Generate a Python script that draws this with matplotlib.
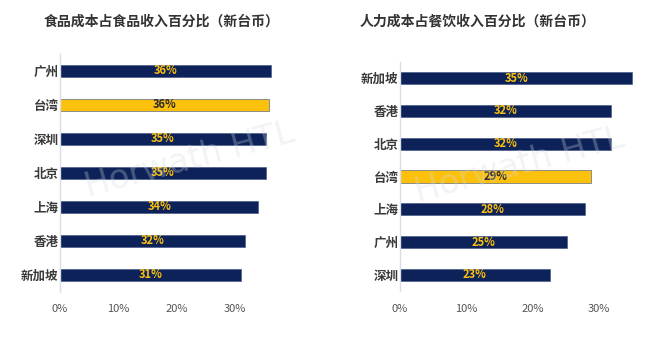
import matplotlib
matplotlib.use("Agg")
import matplotlib.pyplot as plt

plt.rcParams['font.family'] = ['Noto Sans CJK SC', 'DejaVu Sans']

left_title = "食品成本占食品收入百分比（新台币）"
left_cats = ["广州", "台湾", "深圳", "北京", "上海", "香港", "新加坡"]
left_vals = [36.2, 35.8, 35.3, 35.3, 34.0, 31.7, 31.0]
left_labels = ["36%", "36%", "35%", "35%", "34%", "32%", "31%"]

right_title = "人力成本占餐饮收入百分比（新台币）"
right_cats = ["新加坡", "香港", "北京", "台湾", "上海", "广州", "深圳"]
right_vals = [35.1, 31.8, 31.8, 28.9, 28.0, 25.2, 22.6]
right_labels = ["35%", "32%", "32%", "29%", "28%", "25%", "23%"]

xticks = [0, 10, 20, 30]
xtick_labels = ["0%", "10%", "20%", "30%"]
highlight = "台湾"

NAVY = "#0d2258"
GOLD = "#fcc10d"

fig = plt.figure(figsize=(6.46, 3.38), dpi=100)


def draw(ax, cats, vals, labels, xmax, title, title_x):
    colors = [GOLD if c == highlight else NAVY for c in cats]
    y = list(range(len(cats)))
    ax.barh(y, vals, height=0.37, color=colors, edgecolor="#3a4f80", linewidth=0.4)
    for yi, v, lab, c in zip(y, vals, labels, cats):
        tc = "#2a2a2a" if c == highlight else GOLD
        ax.text(v / 2, yi, lab, ha="center", va="center", fontsize=8,
                fontweight="bold", color=tc)
    ax.set_ylim(len(cats) - 0.5, -0.5)
    ax.set_xlim(0, xmax)
    ax.set_yticks(y)
    ax.set_yticklabels(cats, fontsize=9, fontweight="bold", color="#3a3a3a")
    ax.set_xticks(xticks)
    ax.set_xticklabels(xtick_labels, fontsize=8, color="#555555")
    ax.tick_params(axis="both", length=0)
    ax.tick_params(axis="x", pad=9)
    ax.tick_params(axis="y", pad=1)
    for s in ["top", "right", "bottom"]:
        ax.spines[s].set_visible(False)
    ax.spines["left"].set_color("#d9dde6")
    ax.spines["left"].set_linewidth(1.0)
    ax.set_facecolor("none")
    fig.text(title_x, 1 - 22 / 338, title, ha="center", va="center",
             fontsize=10, fontweight="bold", color="#333333")


ax1 = fig.add_axes([60 / 646, 1 - 292 / 338, (273 - 60) / 646, 238 / 338])
draw(ax1, left_cats, left_vals, left_labels, 36.5, left_title, 162 / 646)

ax2 = fig.add_axes([400 / 646, 1 - 291.4 / 338, (635 - 400) / 646, 229.8 / 338])
draw(ax2, right_cats, right_vals, right_labels, 35.5, right_title, 478 / 646)

# faint watermark
fig.text(190 / 646, 1 - 160 / 338, "Horwath HTL", fontsize=24, color="#d5d9e2",
         alpha=0.3, rotation=15, ha="center", va="center", zorder=10,
         family="DejaVu Sans")
fig.text(520 / 646, 1 - 165 / 338, "Horwath HTL", fontsize=24, color="#d5d9e2",
         alpha=0.3, rotation=15, ha="center", va="center", zorder=10,
         family="DejaVu Sans")

fig.savefig("out.png", dpi=100, facecolor="white")
